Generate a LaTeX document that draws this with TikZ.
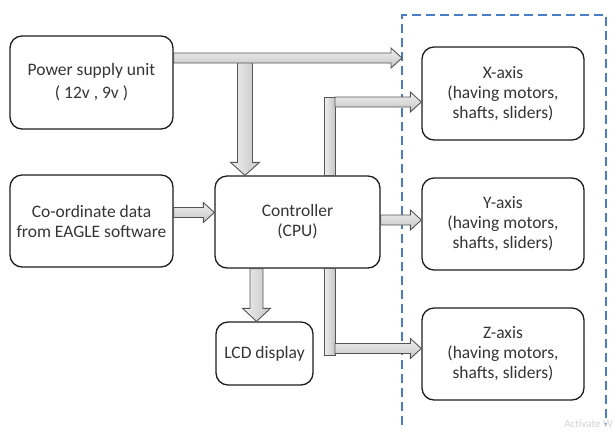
\documentclass[tikz,border=0pt]{standalone}
\usepackage{fontspec}
\setmainfont{Carlito}
\usetikzlibrary{calc}

\definecolor{boxline}{HTML}{1E1E1E}
\definecolor{txt}{HTML}{353535}
\definecolor{arrline}{HTML}{555555}
\definecolor{frameblue}{HTML}{4A7EC4}

\tikzset{
  blockbox/.style={draw=boxline, line width=1.3pt, rounded corners=12pt,
    fill=white, inner sep=0pt, align=center, text=txt,
    font=\fontsize{17.5}{20}\selectfont},
  harr/.style={draw=arrline, line width=0.9pt, top color=gray!12,
    bottom color=gray!45, line join=miter},
  varr/.style={draw=arrline, line width=0.9pt, left color=gray!12,
    right color=gray!45, line join=miter},
  frame/.style={draw=frameblue, line width=1.8pt, dash pattern=on 9pt off 5pt}
}

% right-pointing block arrow from #1 to the tip #2 (same height)
\newcommand\rblock[2]{%
  \path[harr] let \p1=(#1), \p2=(#2) in
    (\x1,\y1+5pt) -- (\x2-11pt,\y1+5pt) -- (\x2-11pt,\y1+10pt) -- (\x2,\y1)
    -- (\x2-11pt,\y1-10pt) -- (\x2-11pt,\y1-5pt) -- (\x1,\y1-5pt) -- cycle;}
% downward block arrow from #1 to the tip #2, half shaft width #3, half head width #4
\newcommand\dblock[4]{%
  \path[varr] let \p1=(#1), \p2=(#2) in
    (\x1-#3,\y1) -- (\x1+#3,\y1) -- (\x1+#3,\y2+13pt) -- (\x1+#4,\y2+13pt)
    -- (\x1,\y2) -- (\x1-#4,\y2+13pt) -- (\x1-#3,\y2+13pt) -- cycle;}

\begin{document}
\begin{tikzpicture}[x=1pt, y=-1pt]
  \useasboundingbox (0,0) rectangle (614,432);
  \clip (0,0) rectangle (614,432);

  % blocks
  \node[blockbox, minimum width=163pt, minimum height=93pt] (pwr) at (91.5,82.5)
    {Power supply unit\\[3pt]( 12v , 9v )};
  \node[blockbox, minimum width=163pt, minimum height=92pt] (coord) at (91.5,221)
    {Co-ordinate data\\from EAGLE software};
  \node[blockbox, minimum width=165pt, minimum height=92pt] (ctrl) at (297.5,222)
    {Controller\\(CPU)};
  \node[blockbox, minimum width=97pt, minimum height=63pt] (lcd) at (264.5,353.5)
    {LCD display};
  \node[blockbox, minimum width=162pt, minimum height=93pt] (xax) at (503,93.5)
    {X-axis\\(having motors,\\shafts, sliders)};
  \node[blockbox, minimum width=162pt, minimum height=92pt] (yax) at (503,224)
    {Y-axis\\(having motors,\\shafts, sliders)};
  \node[blockbox, minimum width=162pt, minimum height=92pt] (zax) at (503,354)
    {Z-axis\\(having motors,\\shafts, sliders)};

  % dashed enclosure of the three axes (open at the bottom)
  \coordinate (frameL) at (402,15);
  \coordinate (frameR) at (606,15);
  \draw[frame] (402,425) -- (frameL) -- (frameR) -- (606,425);

  % power feed: down branch first, then the main arm over it
  \dblock{245,62}{ctrl.north -| 245,0}{7.5pt}{14.5pt}
  \rblock{pwr.east |- 0,58}{frameL |- 0,58}

  % data into the controller
  \rblock{coord.east |- 0,212.5}{ctrl.west |- 0,212.5}

  % controller to the Y axis
  \rblock{ctrl.east |- 0,220}{yax.west |- 0,220}

  % controller to the LCD
  \dblock{ctrl.south -| 256.5,0}{lcd.north -| 256.5,0}{6.5pt}{14pt}

  % controller up and over to the X axis
  \path[varr] (324,97) rectangle (ctrl.north -| 335,0);
  \rblock{335,102}{xax.west |- 0,102}

  % controller down and over to the Z axis
  \path[varr] (ctrl.south -| 324,0) rectangle (335,355);
  \rblock{335,348.5}{zax.west |- 0,348.5}

  % faint system watermark
  \node[anchor=east, text=gray!35, font=\fontsize{11}{13}\selectfont, inner sep=0pt]
    (wm) at (613,424) {Activate W};
\end{tikzpicture}
\end{document}
